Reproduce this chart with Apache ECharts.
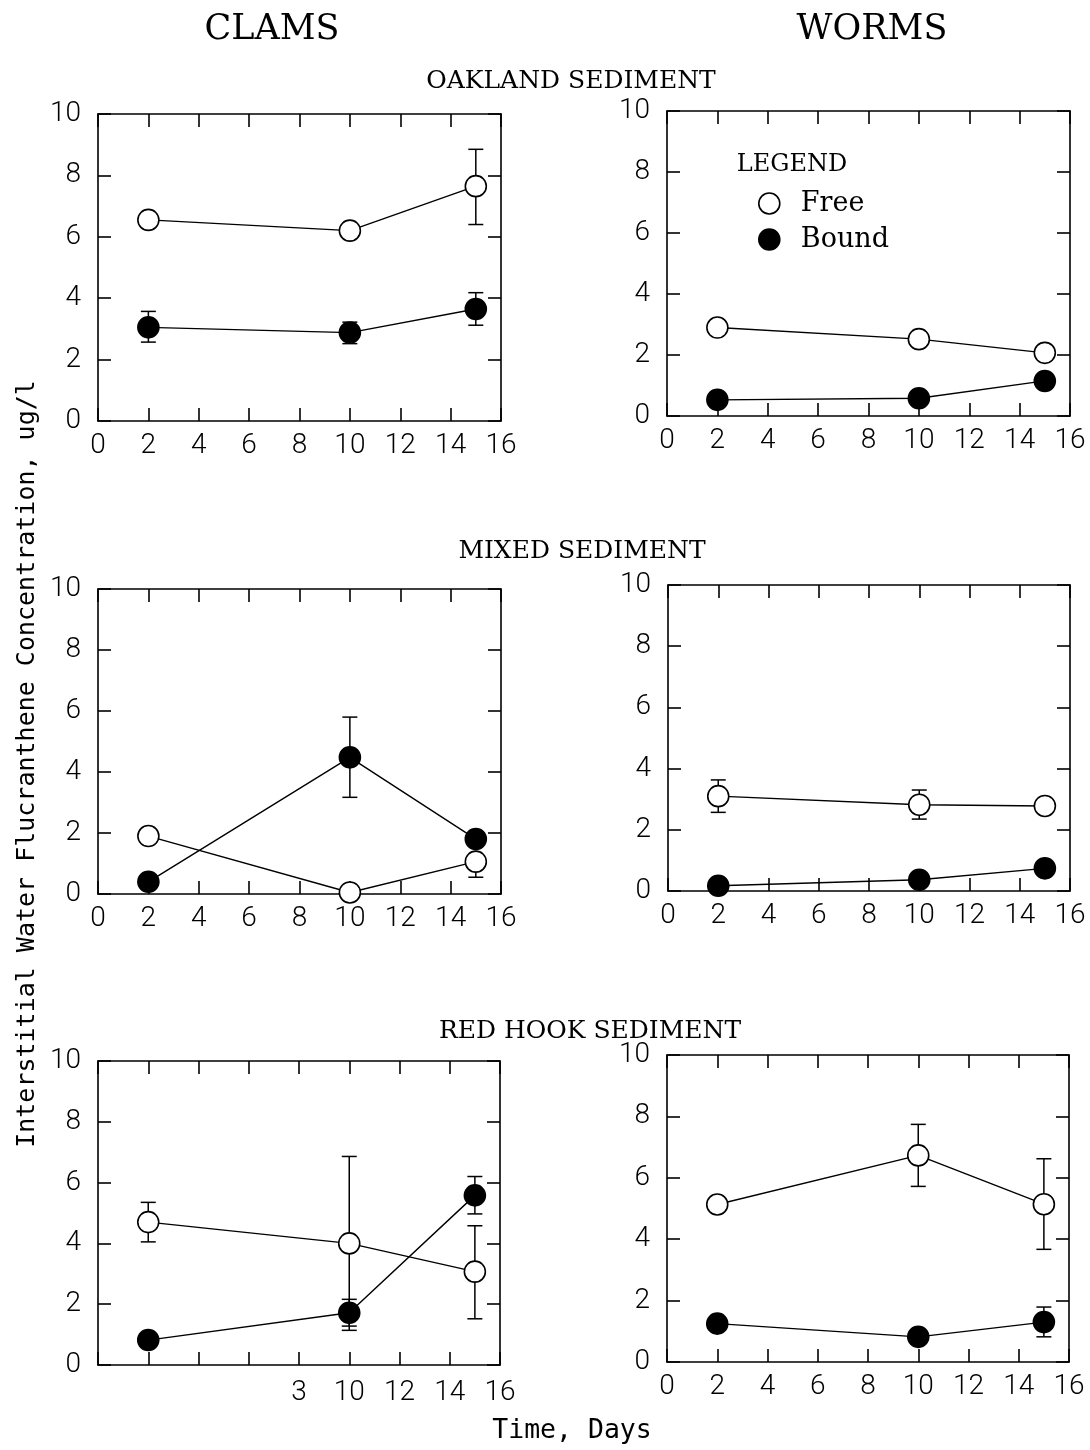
<!DOCTYPE html>
<html><head><meta charset="utf-8">
<script src="https://cdn.jsdelivr.net/npm/echarts@6/dist/echarts.min.js"></script>
<style>html,body{margin:0;padding:0;background:#fff}#c{width:1090px;height:1450px}</style>
</head><body><div id="c"></div>
<script>
// ---- data ----
const days = [2, 10, 15];
const xTickValues = [0, 2, 4, 6, 8, 10, 12, 14, 16];
const xTickLabels = ['0', '2', '4', '6', '8', '10', '12', '14', '16'];
const xTickLabelsRedHookClams = ['', '', '', '', '3', '10', '12', '14', '16'];
const yTickLabels = ['0', '2', '4', '6', '8', '10'];

const oaklandClamsFree = [6.55, 6.2, 7.65];
const oaklandClamsBound = [3.05, 2.88, 3.65];
const oaklandClamsErr = [[15, 6.4, 8.85], [2, 2.57, 3.57], [10, 2.52, 3.22], [15, 3.12, 4.18]];

const oaklandWormsFree = [2.9, 2.52, 2.07];
const oaklandWormsBound = [0.53, 0.58, 1.15];
const oaklandWormsErr = [];

const mixedClamsFree = [1.9, 0.05, 1.06];
const mixedClamsBound = [0.4, 4.48, 1.8];
const mixedClamsErr = [[15, 0.55, 1.06], [10, 3.17, 5.8]];

const mixedWormsFree = [3.1, 2.82, 2.78];
const mixedWormsBound = [0.17, 0.37, 0.74];
const mixedWormsErr = [[2, 2.57, 3.63], [10, 2.35, 3.3]];

const redHookClamsFree = [4.7, 4.0, 3.07];
const redHookClamsBound = [0.82, 1.72, 5.58];
const redHookClamsErr = [[2, 4.05, 5.35], [10, 1.14, 6.86], [15, 1.52, 4.58], [10, 1.28, 2.16], [15, 4.97, 6.2]];

const redHookWormsFree = [5.13, 6.73, 5.14];
const redHookWormsBound = [1.25, 0.82, 1.3];
const redHookWormsErr = [[10, 5.72, 7.74], [15, 3.67, 6.62], [15, 0.82, 1.79]];

const panels = [
  {free: oaklandClamsFree, bound: oaklandClamsBound, err: oaklandClamsErr, xl: xTickLabels},
  {free: oaklandWormsFree, bound: oaklandWormsBound, err: oaklandWormsErr, xl: xTickLabels},
  {free: mixedClamsFree, bound: mixedClamsBound, err: mixedClamsErr, xl: xTickLabels},
  {free: mixedWormsFree, bound: mixedWormsBound, err: mixedWormsErr, xl: xTickLabels},
  {free: redHookClamsFree, bound: redHookClamsBound, err: redHookClamsErr, xl: xTickLabelsRedHookClams},
  {free: redHookWormsFree, bound: redHookWormsBound, err: redHookWormsErr, xl: xTickLabels}
];

// ---- layout ----
const gridBoxes = [
  {left: 98, top: 114, width: 403, height: 307},
  {left: 667, top: 111, width: 403, height: 305},
  {left: 98, top: 589, width: 403, height: 305},
  {left: 668, top: 585, width: 402, height: 306},
  {left: 98, top: 1061, width: 402, height: 304},
  {left: 667, top: 1055, width: 402, height: 307}
];
const xLabelMargins = [11, 11, 11, 11, 14, 11];

const tickFont = {fontFamily: 'Roboto', fontWeight: 300, fontSize: 28, color: '#000'};
const serif = 'DejaVu Serif';
const mono = 'DejaVu Sans Mono';
const axLine = {show: true, onZero: false, lineStyle: {color: '#000', width: 1.6}};
const axTick = {show: true, inside: true, length: 13, lineStyle: {color: '#000', width: 1.6}};

const grid = [], xAxis = [], yAxis = [], series = [];
panels.forEach((p, i) => {
  grid.push(Object.assign({containLabel: false}, gridBoxes[i]));
  const labMap = {};
  xTickValues.forEach((v, k) => labMap[v] = p.xl[k]);
  xAxis.push({type: 'value', gridIndex: i, min: 0, max: 16, interval: 2, position: 'bottom',
    axisLine: axLine, axisTick: axTick, splitLine: {show: false},
    axisLabel: Object.assign({margin: xLabelMargins[i], formatter: v => labMap[v] || ''}, tickFont)});
  xAxis.push({type: 'value', gridIndex: i, min: 0, max: 16, interval: 2, position: 'top',
    axisLine: axLine, axisTick: axTick, splitLine: {show: false}, axisLabel: {show: false}});
  yAxis.push({type: 'value', gridIndex: i, min: 0, max: 10, interval: 2, position: 'left',
    axisLine: axLine, axisTick: axTick, splitLine: {show: false},
    axisLabel: Object.assign({margin: 17, formatter: v => yTickLabels[v / 2]}, tickFont)});
  yAxis.push({type: 'value', gridIndex: i, min: 0, max: 10, interval: 2, position: 'right',
    axisLine: axLine, axisTick: axTick, splitLine: {show: false}, axisLabel: {show: false}});
  const xi = i * 2, yi = i * 2;
  series.push({
    type: 'custom', xAxisIndex: xi, yAxisIndex: yi, z: 1, silent: true,
    data: p.err,
    renderItem: (params, api) => {
      const x = api.value(0);
      const a = api.coord([x, api.value(1)]), b = api.coord([x, api.value(2)]);
      const w = 7.5, st = {stroke: '#000', lineWidth: 1.5};
      return {type: 'group', children: [
        {type: 'line', shape: {x1: a[0], y1: a[1], x2: b[0], y2: b[1]}, style: st},
        {type: 'line', shape: {x1: a[0] - w, y1: a[1], x2: a[0] + w, y2: a[1]}, style: st},
        {type: 'line', shape: {x1: b[0] - w, y1: b[1], x2: b[0] + w, y2: b[1]}, style: st}
      ]};
    }
  });
  series.push({
    name: 'Free', type: 'line', xAxisIndex: xi, yAxisIndex: yi, z: 3,
    data: days.map((d, k) => [d, p.free[k]]),
    symbol: 'circle', symbolSize: 21, showAllSymbol: true,
    itemStyle: {color: '#fff', borderColor: '#000', borderWidth: 1.6},
    lineStyle: {color: '#000', width: 1.4}, emphasis: {disabled: true}, animation: false
  });
  series.push({
    name: 'Bound', type: 'line', xAxisIndex: xi, yAxisIndex: yi, z: 3,
    data: days.map((d, k) => [d, p.bound[k]]),
    symbol: 'circle', symbolSize: 21, showAllSymbol: true,
    itemStyle: {color: '#000', borderColor: '#000', borderWidth: 1.6},
    lineStyle: {color: '#000', width: 1.4}, emphasis: {disabled: true}, animation: false
  });
});

const txt = (text, x, y, size, fam) => ({
  type: 'text', style: {text: text, x: x, y: y, fontFamily: fam || serif, fontSize: size, fill: '#000', align: 'center', verticalAlign: 'middle'}
});

const option = {
  backgroundColor: '#fff',
  animation: false,
  grid: grid, xAxis: xAxis, yAxis: yAxis, series: series,
  legend: {
    data: ['Free', 'Bound'], orient: 'vertical', left: 758, top: 190, padding: 0,
    icon: 'circle', itemWidth: 21, itemHeight: 21, itemGap: 9, selectedMode: false,
    itemStyle: {borderColor: '#000', borderWidth: 1.6},
    textStyle: {fontFamily: serif, fontSize: 27, color: '#000', padding: [0, 0, 0, 16]}
  },
  graphic: [
    txt('CLAMS', 272, 30, 35),
    txt('WORMS', 872, 30, 35),
    txt('OAKLAND SEDIMENT', 571, 81, 25),
    txt('MIXED SEDIMENT', 582, 551, 25),
    txt('RED HOOK SEDIMENT', 590, 1031, 25),
    txt('Time, Days', 572, 1431, 26.5, mono),
    txt('LEGEND', 792, 165, 24),
    {type: 'text', x: 27, y: 764, rotation: Math.PI / 2,
      style: {text: 'Interstitial Water Flucranthene Concentration, ug/l', fontFamily: mono, fontSize: 25, fill: '#000', align: 'center', verticalAlign: 'middle'}}
  ]
};
echarts.init(document.getElementById('c'), null, {renderer: 'canvas'}).setOption(option);
</script></body></html>
